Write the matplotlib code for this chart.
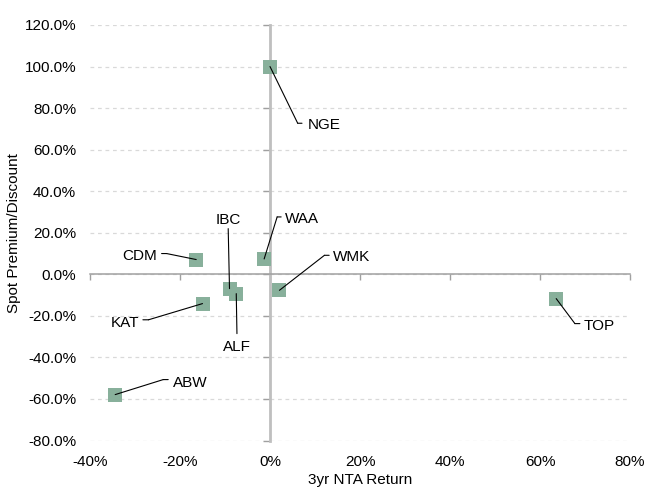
import matplotlib
matplotlib.use("Agg")
import matplotlib.pyplot as plt
from matplotlib.ticker import FuncFormatter, FixedLocator
from matplotlib.transforms import offset_copy

plt.rcParams['font.family'] = ['Liberation Sans', 'DejaVu Sans']

# Data: 3-year NTA return vs spot premium/discount (both in %)
tickers = ["NGE", "WAA", "IBC", "WMK", "CDM", "KAT", "ABW", "ALF", "TOP"]
nta_return = [0.0, -1.3, -9.0, 2.1, -16.4, -15.0, -34.4, -7.5, 63.6]
premium = [100.0, 7.4, -6.9, -7.7, 7.1, -14.1, -57.9, -9.3, -11.7]

x_ticks = [-40, -20, 0, 20, 40, 60, 80]
y_ticks = [-80, -60, -40, -20, 0, 20, 40, 60, 80, 100, 120]

# Leader-line layout in pixels relative to each point (x right, y down):
# elbow offset, horizontal tail length, text anchor offset (cap centre), alignment
label_layout = {
    "NGE": (27.7, 56.7, 4.3, 37.4, 57.0, "left"),
    "WAA": (13.0, -42.0, 4.0, 20.7, -41.7, "left"),
    "IBC": (-1.3, -60.0, 0.0, -1.6, -70.0, "center"),
    "WMK": (45.0, -35.0, 4.7, 53.7, -35.0, "left"),
    "CDM": (-29.6, -6.0, -5.0, -39.0, -5.0, "right"),
    "KAT": (-54.0, 16.2, -5.6, -63.3, 17.5, "right"),
    "ABW": (48.0, -15.0, 5.0, 57.4, -13.0, "left"),
    "ALF": (0.7, 40.0, 0.0, 0.7, 51.7, "center"),
    "TOP": (18.7, 25.0, 5.0, 27.0, 26.0, "left"),
}

DPI = 100
PT = 72.0 / DPI
FS = 11
CAP = 11.0  # approximate cap height in px

fig = plt.figure(figsize=(6.48, 4.92), dpi=DPI)
rect = [90 / 648, 1 - 440.5 / 492, 540 / 648, 415.5 / 492]

# Base axes: edge tick labels and dashed grid
ax = fig.add_axes(rect)
ax.set_xlim(x_ticks[0], x_ticks[-1])
ax.set_ylim(y_ticks[0], y_ticks[-1])
ax.xaxis.set_major_locator(FixedLocator(x_ticks))
ax.yaxis.set_major_locator(FixedLocator(y_ticks))
ax.xaxis.set_major_formatter(FuncFormatter(lambda v, p: f"{v:.0f}%"))
ax.yaxis.set_major_formatter(FuncFormatter(lambda v, p: f"{v:.1f}%"))
for s in ax.spines.values():
    s.set_visible(False)
ax.tick_params(axis="both", length=0, labelsize=FS, colors="black")
ax.tick_params(axis="y", pad=10)
ax.tick_params(axis="x", pad=10.5)
ax.grid(axis="y", color="#d9d9d9", linestyle=(0, (3, 3)), linewidth=0.9)
ax.grid(axis="x", visible=False)
ax.set_xlabel("3yr NTA Return", fontsize=FS)
ax.set_ylabel("Spot Premium/Discount", fontsize=FS)
ax.xaxis.set_label_coords(0.5, -0.078)
ax.yaxis.set_label_coords(-0.128, 0.5)

# Overlay axes: zero-crossing axis lines, markers and labels
ax2 = fig.add_axes(rect, sharex=ax, sharey=ax, facecolor="none")
ax2.spines["top"].set_visible(False)
ax2.spines["right"].set_visible(False)
ax2.spines["left"].set_position(("data", 0))
ax2.spines["bottom"].set_position(("data", 0))
ax2.spines["left"].set_color("#bfbfbf")
ax2.spines["left"].set_linewidth(2.0)
ax2.spines["bottom"].set_color("#a0a0a0")
ax2.spines["bottom"].set_linewidth(1.1)
ax2.tick_params(axis="y", direction="out", length=5, width=1, color="#a0a0a0",
                labelleft=False)
ax2.tick_params(axis="x", direction="out", length=4, width=1, color="#a0a0a0",
                labelbottom=False)

ax2.scatter(nta_return, premium, marker="s", s=90, color="#88b09b",
            linewidths=0, zorder=3, clip_on=False)

for name, x, y in zip(tickers, nta_return, premium):
    ex, ey, tail, tx, ty, ha = label_layout[name]
    line_kw = dict(arrowstyle="-", shrinkA=0, shrinkB=0, color="black", lw=0.8)
    # diagonal from the point to the elbow
    ax2.annotate("", xy=(x, y), xytext=(ex * PT, -ey * PT),
                 textcoords="offset points", arrowprops=line_kw, zorder=4)
    # short horizontal tail next to the text
    if tail:
        elbow_tr = offset_copy(ax2.transData, fig=fig, x=ex * PT, y=-ey * PT,
                               units="points")
        ax2.annotate("", xy=(x, y), xycoords=elbow_tr, xytext=(tail * PT, 0),
                     textcoords="offset points", arrowprops=line_kw, zorder=4)
    ax2.annotate(name, xy=(x, y), xytext=(tx * PT, -(ty + CAP / 2) * PT),
                 textcoords="offset points", ha=ha, va="baseline",
                 fontsize=FS, color="black", zorder=5)

fig.savefig("out.png", dpi=DPI)
